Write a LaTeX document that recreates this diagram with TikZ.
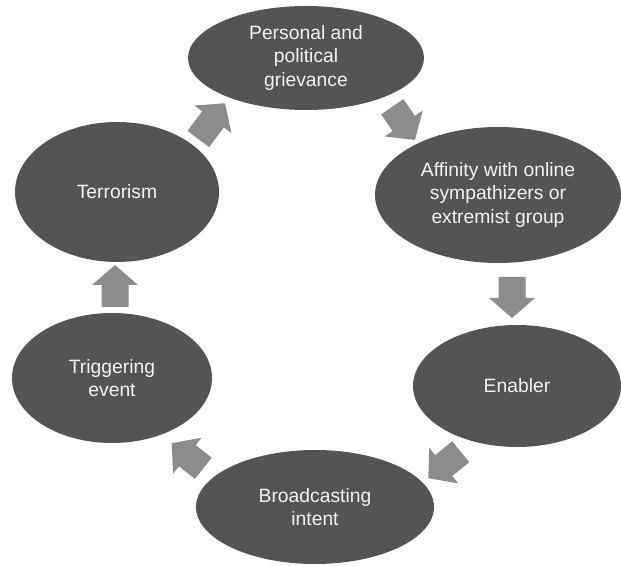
\documentclass[tikz,border=0pt]{standalone}
\usepackage{fontspec}
\setmainfont{Liberation Sans}
\usetikzlibrary{shapes.geometric,calc}
\definecolor{ellfill}{RGB}{84,84,84}
\definecolor{arrfill}{RGB}{140,140,140}
\definecolor{txtcol}{RGB}{242,242,242}
\tikzset{
  stage/.style={ellipse, fill=ellfill, inner sep=0pt, text=txtcol, align=center,
    font=\fontsize{19.3pt}{23.3pt}\selectfont},
}
\newcommand\blockarr[2]{%
  \coordinate (hb) at ($(#2)!20pt!(#1)$);
  \fill[arrfill] ($(#1)!13.5pt!90:(#2)$) -- ($(hb)!13.5pt!90:(#2)$) -- ($(hb)!23pt!90:(#2)$)
    -- (#2) -- ($(hb)!23pt!-90:(#2)$) -- ($(hb)!13.5pt!-90:(#2)$) -- ($(#1)!13.5pt!-90:(#2)$) -- cycle;
}
\begin{document}
\begin{tikzpicture}[x=1pt,y=1pt]
\useasboundingbox (0,0) rectangle (621,565);
\node[stage, minimum width=236pt, minimum height=104pt] (per) at (306,507) {Personal and\\political\\grievance};
\node[stage, minimum width=246pt, minimum height=136pt] (aff) at (498,370) {Affinity with online\\sympathizers or\\extremist group};
\node[stage, minimum width=208pt, minimum height=122pt] (ena) at (517,179) {Enabler};
\node[stage, minimum width=238pt, minimum height=114pt] (bro) at (315,58) {Broadcasting\\intent};
\node[stage, minimum width=200pt, minimum height=130pt] (tri) at (112,187) {Triggering\\event};
\node[stage, minimum width=204pt, minimum height=140pt] (ter) at (117,373) {Terrorism};
% arrow end points
\coordinate (t1) at (198.3,426);  \coordinate (p1) at (225,461.7);
\coordinate (t2) at (392.3,458.3); \coordinate (p2) at (415,425);
\coordinate (t3) at (512,288);    \coordinate (p3) at (512,247);
\coordinate (t4) at (460.7,113.3); \coordinate (p4) at (428.3,86.7);
\coordinate (t5) at (203.3,96.7); \coordinate (p5) at (171.7,121.7);
\coordinate (t6) at (115,258);    \coordinate (p6) at (115,300);
\blockarr{t1}{p1}
\blockarr{t2}{p2}
\blockarr{t3}{p3}
\blockarr{t4}{p4}
\blockarr{t5}{p5}
\blockarr{t6}{p6}
\end{tikzpicture}
\end{document}
